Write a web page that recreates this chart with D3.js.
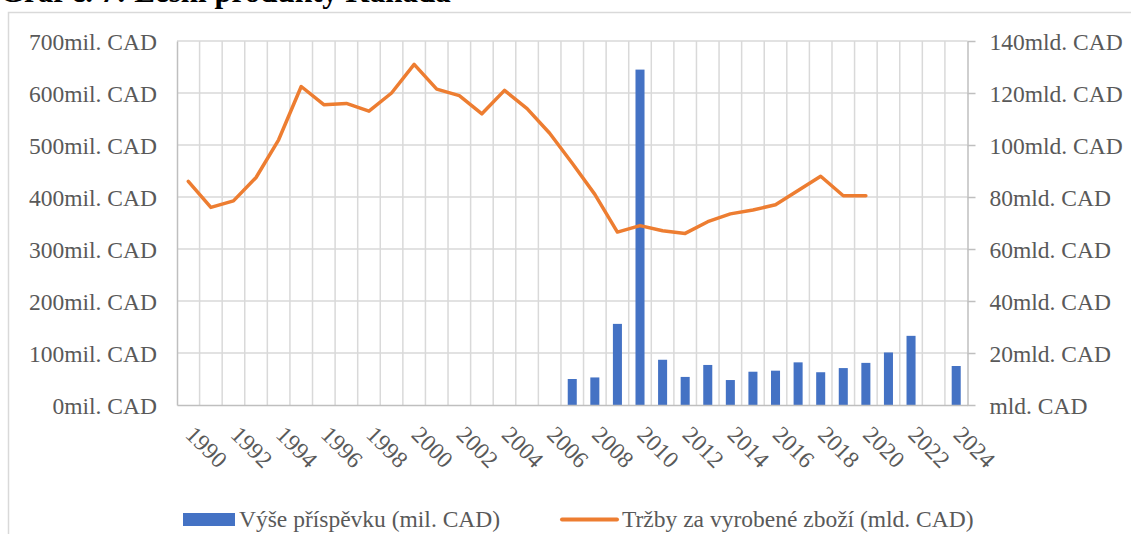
<!DOCTYPE html>
<html>
<head>
<meta charset="utf-8">
<script src="https://cdn.jsdelivr.net/npm/d3@7"></script>
<style>
  html, body { margin: 0; padding: 0; background: #fff; overflow: hidden; }
  svg { display: block; }
  text { font-family: "Liberation Serif", "Times New Roman", serif; }
</style>
</head>
<body>
<svg id="chart" width="1131" height="534"></svg>
<script>
// Categories (years)
const years = d3.range(1990, 2025);
const xTickYears = years.filter(y => y % 2 === 0);

// Výše příspěvku (mil. CAD) — bars, left axis
const contributions = [
  null, null, null, null, null, null, null, null, null, null,
  null, null, null, null, null, null, null,
  50, 53, 156, 645, 87, 54, 77, 48, 64, 66, 82, 63, 71, 81, 101, 133, null, 75,
];

// Tržby za vyrobené zboží (mld. CAD) — line, right axis
const sales = [
  86, 76, 78.5, 87.5, 102, 122.5, 115.5, 116, 113, 120,
  131, 121.5, 119, 112, 121, 114, 104.5, 93, 81, 66.5,
  69, 67, 66, 70.5, 73.5, 75, 77, 82.5, 88, 80.5, 80.5,
  null, null, null, null,
];

const leftTicks = [0, 100, 200, 300, 400, 500, 600, 700];
const rightTicks = [0, 20, 40, 60, 80, 100, 120, 140];

const legendLabels = ['Výše příspěvku (mil. CAD)', 'Tržby za vyrobené zboží (mld. CAD)'];

const BAR_COLOR = '#4472C4';
const LINE_COLOR = '#ED7D31';
const GRID_COLOR = '#d9d9d9';
const AXIS_COLOR = '#bfbfbf';
const TEXT_COLOR = '#595959';

const PLOT = { LEFT: 177, RIGHT: 967.5, TOP: 41, BOTTOM: 405 };

const svg = d3.select('#chart');

// Outer chart frame
svg.append('rect')
  .attr('x', 8.5)
  .attr('y', 12.5)
  .attr('width', 1300)
  .attr('height', 700)
  .attr('fill', 'none')
  .attr('stroke', GRID_COLOR)
  .attr('stroke-width', 1.5);

// Title (cut by the top edge in the original)
svg.append('text')
  .attr('x', 0)
  .attr('y', 2)
  .attr('font-size', 31)
  .attr('font-weight', 'bold')
  .attr('fill', '#000')
  .text('Graf č. 7: Lesní produkty Kanada');

const xScale = d3.scaleBand()
  .domain(years)
  .range([PLOT.LEFT, PLOT.RIGHT])
  .padding(0);

const yLeft = d3.scaleLinear()
  .domain([0, 700])
  .range([PLOT.BOTTOM, PLOT.TOP]);

const yRight = d3.scaleLinear()
  .domain([0, 140])
  .range([PLOT.BOTTOM, PLOT.TOP]);

// Gridlines
const grid = svg.append('g').attr('class', 'grid');
grid.selectAll('.hgrid')
  .data(leftTicks.filter(d => d > 0))
  .enter()
  .append('line')
  .attr('x1', PLOT.LEFT)
  .attr('x2', PLOT.RIGHT)
  .attr('y1', d => yLeft(d))
  .attr('y2', d => yLeft(d))
  .attr('stroke', GRID_COLOR)
  .attr('stroke-width', 1.5);

grid.selectAll('.vgrid')
  .data(years.slice(1))
  .enter()
  .append('line')
  .attr('x1', d => xScale(d))
  .attr('x2', d => xScale(d))
  .attr('y1', PLOT.TOP)
  .attr('y2', PLOT.BOTTOM)
  .attr('stroke', GRID_COLOR)
  .attr('stroke-width', 1.5);

// Bars
const barWidth = xScale.bandwidth() * 0.4;
svg.append('g')
  .attr('class', 'bars')
  .selectAll('rect')
  .data(years.map((year, i) => ({ year, value: contributions[i] })).filter(d => d.value !== null))
  .enter()
  .append('rect')
  .attr('x', d => xScale(d.year) + (xScale.bandwidth() - barWidth) / 2)
  .attr('y', d => yLeft(d.value))
  .attr('width', barWidth)
  .attr('height', d => yLeft(0) - yLeft(d.value))
  .attr('fill', BAR_COLOR);

// Line
const line = d3.line()
  .defined(d => d.value !== null)
  .x(d => xScale(d.year) + xScale.bandwidth() / 2)
  .y(d => yRight(d.value));

svg.append('path')
  .datum(years.map((year, i) => ({ year, value: sales[i] })))
  .attr('fill', 'none')
  .attr('stroke', LINE_COLOR)
  .attr('stroke-width', 3.5)
  .attr('stroke-linejoin', 'round')
  .attr('stroke-linecap', 'round')
  .attr('d', line);

// Left axis
const leftAxis = d3.axisLeft(yLeft)
  .tickValues(leftTicks)
  .tickSize(0)
  .tickPadding(20)
  .tickFormat(d => `${d}mil. CAD`);
const gLeft = svg.append('g')
  .attr('transform', `translate(${PLOT.LEFT},0)`)
  .call(leftAxis);
gLeft.select('.domain').attr('stroke', AXIS_COLOR).attr('stroke-width', 1.5);
gLeft.selectAll('text')
  .attr('font-size', 23.5)
  .attr('fill', TEXT_COLOR)
  .attr('dy', '0.35em');

// Right axis
const rightAxis = d3.axisRight(yRight)
  .tickValues(rightTicks)
  .tickSize(8)
  .tickSizeOuter(0)
  .tickPadding(14)
  .tickFormat(d => (d === 0 ? 'mld. CAD' : `${d}mld. CAD`));
const gRight = svg.append('g')
  .attr('transform', `translate(${PLOT.RIGHT},0)`)
  .call(rightAxis);
gRight.select('.domain').attr('stroke', AXIS_COLOR).attr('stroke-width', 1.5);
gRight.selectAll('.tick line').attr('stroke', AXIS_COLOR).attr('stroke-width', 1.5);
gRight.selectAll('text')
  .attr('font-size', 23.5)
  .attr('fill', TEXT_COLOR)
  .attr('dy', '0.35em');

// Bottom axis
const bottomAxis = d3.axisBottom(xScale)
  .tickValues(xTickYears)
  .tickSize(0)
  .tickSizeOuter(0);
const gBottom = svg.append('g')
  .attr('transform', `translate(0,${PLOT.BOTTOM})`)
  .call(bottomAxis);
gBottom.select('.domain').attr('stroke', AXIS_COLOR).attr('stroke-width', 1.5);
gBottom.selectAll('text')
  .attr('font-size', 23.5)
  .attr('fill', TEXT_COLOR)
  .attr('x', 0)
  .attr('y', 0)
  .attr('dy', 0)
  .attr('transform', 'translate(-4,31) rotate(45)')
  .style('text-anchor', 'start');

// Legend
const legend = svg.append('g').attr('class', 'legend');
legend.append('rect')
  .attr('x', 183)
  .attr('y', 513)
  .attr('width', 52)
  .attr('height', 13)
  .attr('fill', BAR_COLOR);
legend.append('text')
  .attr('x', 239)
  .attr('y', 527)
  .attr('font-size', 23.5)
  .attr('fill', TEXT_COLOR)
  .text(legendLabels[0]);
legend.append('line')
  .attr('x1', 562)
  .attr('x2', 617)
  .attr('y1', 519.5)
  .attr('y2', 519.5)
  .attr('stroke', LINE_COLOR)
  .attr('stroke-width', 4)
  .attr('stroke-linecap', 'round');
legend.append('text')
  .attr('x', 622)
  .attr('y', 527)
  .attr('font-size', 23.5)
  .attr('fill', TEXT_COLOR)
  .text(legendLabels[1]);
</script>
</body>
</html>
